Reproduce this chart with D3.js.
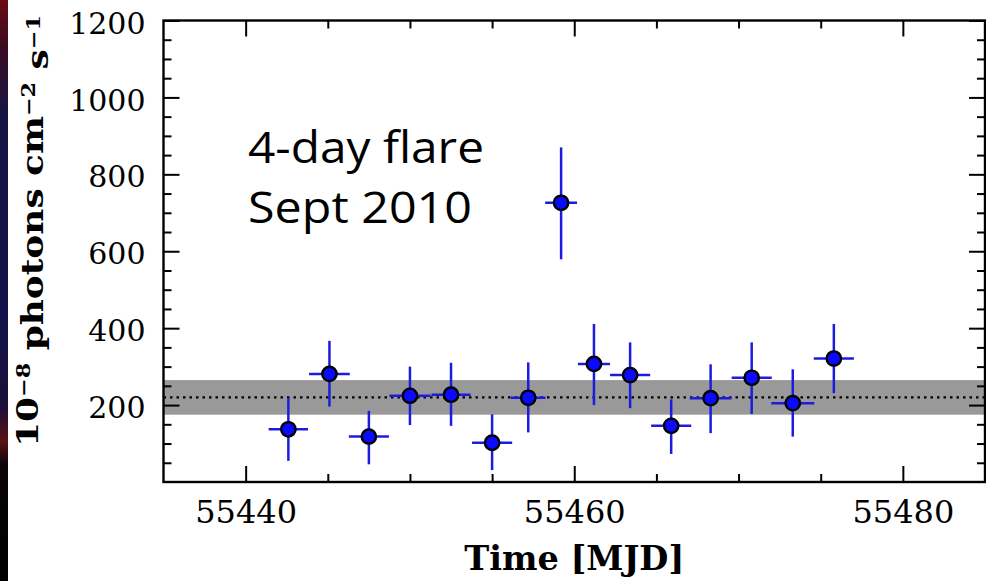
<!DOCTYPE html>
<html lang="en">
<head>
<meta charset="UTF-8" />
<title>4-day flare Sept 2010</title>
<script src="https://d3js.org/d3.v7.min.js"></script>
<style>
  body { margin: 0; background: #fff; }
  svg { display: block; }
  .tick text { font-family: "DejaVu Serif", serif; fill: #000; }
  .tick line { stroke: #000; stroke-width: 2; }
</style>
</head>
<body>
<svg id="chart"></svg>
<script>
// light curve bins (MJD, flux in 1e-8 ph cm^-2 s^-1)
const mjd = [55442.6, 55445.1, 55447.5, 55450.0, 55452.5, 55455.0, 55457.2, 55459.2,
             55461.2, 55463.4, 55465.9, 55468.3, 55470.8, 55473.3, 55475.8];
const halfBin = [1.2, 1.24, 1.22, 1.25, 1.19, 1.22, 1.05, 0.97,
                 0.98, 1.22, 1.22, 1.27, 1.22, 1.31, 1.22];
const flux = [137, 281, 118, 224, 227, 102, 219, 726, 307, 278, 146, 218, 271, 205, 321];
const fluxHi = [219, 367, 185, 300, 310, 176, 311, 870, 411, 363, 215, 306, 363, 293, 411];
const fluxLo = [55, 196, 46, 148, 146, 31, 129, 579, 200, 192, 73, 127, 177, 118, 231];

// average flux and its spread (grey band)
const meanFlux = 220;
const bandLo = 175, bandHi = 265;

const xMajor = [55440, 55460, 55480];
const xMinor = [55445, 55450, 55455, 55465, 55470, 55475];
const yMajor = [200, 400, 600, 800, 1000, 1200];
const yMinor = [50, 100, 150, 250, 300, 350, 450, 500, 550, 650, 700, 750, 850, 900, 950, 1050, 1100, 1150];

const W = 986, H = 581;
const m = { left: 163.5, right: 985, top: 20.5, bottom: 482 };

const svg = d3.select("#chart").attr("width", W).attr("height", H);

// dark strip on the far left (slide background)
const grad = svg.append("defs").append("linearGradient")
  .attr("id", "strip").attr("x1", 0).attr("y1", 0).attr("x2", 0).attr("y2", 1);
[[0, "#6b0c12"], [0.08, "#3a0b22"], [0.2, "#151545"], [0.55, "#12124a"],
 [0.7, "#1a1038"], [0.76, "#5a1212"], [0.8, "#0a0508"], [1, "#000"]]
  .forEach(([o, c]) => grad.append("stop").attr("offset", o).attr("stop-color", c));
svg.append("rect").attr("x", 0).attr("y", 0).attr("width", 8).attr("height", H)
  .attr("fill", "url(#strip)");

const x = d3.scaleLinear().domain([55435, 55485]).range([m.left, m.right]);
const y = d3.scaleLinear().domain([0, 1200]).range([m.bottom, m.top]);

const plot = svg.append("g");

// band + mean line
plot.append("rect")
  .attr("x", m.left).attr("width", m.right - m.left)
  .attr("y", y(bandHi)).attr("height", y(bandLo) - y(bandHi))
  .attr("fill", "#999999");
plot.append("line")
  .attr("x1", m.left).attr("x2", m.right)
  .attr("y1", y(meanFlux)).attr("y2", y(meanFlux))
  .attr("stroke", "#000").attr("stroke-width", 2.2)
  .attr("stroke-dasharray", "2.5,4");

// error bars
const pts = mjd.map((t, i) => ({ t, w: halfBin[i], f: flux[i], hi: fluxHi[i], lo: fluxLo[i] }));
const eb = plot.append("g").attr("stroke", "#1c1ce0").attr("stroke-width", 2.5);
eb.selectAll(".xe").data(pts).join("line").attr("class", "xe")
  .attr("x1", d => x(d.t - d.w)).attr("x2", d => x(d.t + d.w))
  .attr("y1", d => y(d.f)).attr("y2", d => y(d.f));
eb.selectAll(".ye").data(pts).join("line").attr("class", "ye")
  .attr("x1", d => x(d.t)).attr("x2", d => x(d.t))
  .attr("y1", d => y(d.hi)).attr("y2", d => y(d.lo));

plot.selectAll(".dot").data(pts).join("circle").attr("class", "dot")
  .attr("cx", d => x(d.t)).attr("cy", d => y(d.f)).attr("r", 7.2)
  .attr("fill", "#0a0aff").attr("stroke", "#000").attr("stroke-width", 2.4);

// inward ticks on all four sides
function axis(gen, scale, vals, size, labels, tx, ty, fs, pad) {
  const g = svg.append("g").attr("transform", `translate(${tx},${ty})`)
    .call(gen(scale).tickValues(vals).tickSizeInner(-size).tickSizeOuter(0)
      .tickPadding(pad).tickFormat(labels ? d3.format("d") : ""));
  g.select(".domain").remove();
  g.selectAll("text").style("font-size", fs + "px");
  return g;
}
axis(d3.axisBottom, x, xMinor, 8, false, 0, m.bottom, 0, 0);
axis(d3.axisBottom, x, xMajor, 16, true, 0, m.bottom, 32, 18);
axis(d3.axisTop, x, xMinor, 8, false, 0, m.top, 0, 0);
axis(d3.axisTop, x, xMajor, 16, false, 0, m.top, 0, 0);
axis(d3.axisLeft, y, yMinor, 8, false, m.left, 0, 0, 0);
const yl = axis(d3.axisLeft, y, yMajor, 16, true, m.left, 0, 30, 18);
yl.selectAll("text").attr("dy", "0.42em");
axis(d3.axisRight, y, yMinor, 8, false, m.right, 0, 0, 0);
axis(d3.axisRight, y, yMajor, 16, false, m.right, 0, 0, 0);

// frame
svg.append("rect")
  .attr("x", m.left).attr("y", m.top).attr("width", m.right - m.left).attr("height", m.bottom - m.top)
  .attr("fill", "none").attr("stroke", "#000").attr("stroke-width", 2.4);

// axis titles
svg.append("text")
  .attr("x", (m.left + m.right) / 2).attr("y", 570)
  .attr("text-anchor", "middle")
  .style("font-family", "DejaVu Serif, serif").style("font-weight", "bold")
  .style("font-size", "33px").attr("textLength", 220).attr("lengthAdjust", "spacingAndGlyphs")
  .text("Time [MJD]");

const yt = svg.append("text")
  .attr("transform", "translate(38,231) rotate(-90)")
  .attr("text-anchor", "middle")
  .attr("textLength", 432).attr("lengthAdjust", "spacingAndGlyphs")
  .style("font-family", "DejaVu Serif, serif").style("font-weight", "bold")
  .style("font-size", "29px");
yt.append("tspan").text("10");
yt.append("tspan").attr("dy", "-0.45em").style("font-size", "18px").text("−8");
yt.append("tspan").attr("dy", "0.45em").text(" photons cm");
yt.append("tspan").attr("dy", "-0.45em").style("font-size", "18px").text("−2");
yt.append("tspan").attr("dy", "0.45em").text(" s");
yt.append("tspan").attr("dy", "-0.45em").style("font-size", "18px").text("−1");

// annotation
const note = ["4-day flare", "Sept 2010"];
const noteW = [236, 224];
svg.selectAll(".note").data(note).join("text").attr("class", "note")
  .attr("x", 248).attr("y", (d, i) => 163 + i * 60)
  .attr("textLength", (d, i) => noteW[i]).attr("lengthAdjust", "spacingAndGlyphs")
  .style("font-family", "Open Sans, sans-serif").style("font-size", "43px")
  .style("fill", "#000")
  .text(d => d);
</script>
</body>
</html>
